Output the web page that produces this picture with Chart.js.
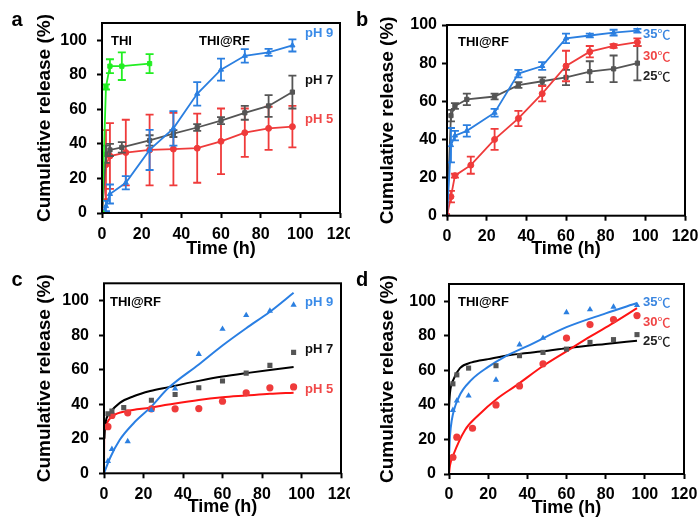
<!DOCTYPE html>
<html>
<head>
<meta charset="utf-8">
<script src="https://cdn.jsdelivr.net/npm/chart.js@4.4.0/dist/chart.umd.min.js"></script>
<style>
  html, body { margin: 0; padding: 0; background: #fff; }
  #wrap { position: relative; width: 700px; height: 527px; overflow: hidden; background: #fff; }
  canvas { position: absolute; }
</style>
</head>
<body>
<div id="wrap">
  <canvas id="pa" width="350" height="262" style="left:0;top:0;width:350px;height:262px"></canvas>
  <canvas id="pb" width="350" height="262" style="left:350px;top:0;width:350px;height:262px"></canvas>
  <canvas id="pc" width="350" height="265" style="left:0;top:262px;width:350px;height:265px"></canvas>
  <canvas id="pd" width="350" height="265" style="left:350px;top:262px;width:350px;height:265px"></canvas>
</div>
<script>
// ---------- Panel a: free THI and THI@RF at pH 9 / 7 / 5 (mean ± SD) ----------
const thiTime    = [0, 2, 4, 10, 24];
const thiRelease = [0, 73, 85, 85, 86.5];
const thiSD      = [0, 1.5, 4, 8, 5.5];

const ph9Time    = [0, 2, 4, 12, 24, 36, 48, 60, 72, 84, 96];
const ph9Release = [0, 4, 11, 17.5, 36.5, 49, 69, 83, 91, 93, 97];
const ph9SD      = [0, 3, 5.5, 3.8, 11.6, 10, 6.8, 6.4, 3.9, 2, 3.5];

const ph7Time    = [0, 2, 4, 10, 24, 36, 48, 60, 72, 84, 96];
const ph7Release = [0, 34, 36.5, 38, 42, 46, 49.5, 53.5, 58, 62, 70];
const ph7SD      = [0, 5, 3.5, 3, 3, 2, 2, 2, 4, 6.3, 9.5];

const ph5Time    = [0, 2, 4, 12, 24, 36, 48, 60, 72, 84, 96];
const ph5Release = [0, 28, 33, 35, 36.5, 37, 37.5, 41.5, 46.5, 49, 50];
const ph5SD      = [0, 20, 19, 19, 20.5, 21, 20, 19, 14, 12.5, 12];

// ---------- Panel b: THI@RF at 35 / 30 / 25 °C (mean ± SD) ----------
const t35Time    = [0, 2, 4, 10, 24, 36, 48, 60, 72, 84, 96];
const t35Release = [0, 37, 42, 44.5, 54, 74.5, 78.5, 93, 94.5, 96, 97];
const t35SD      = [0, 9, 2.5, 3, 2, 2, 2, 2.5, 1, 1.5, 1];

const t30Time    = [0, 2, 4, 12, 24, 36, 48, 60, 72, 84, 96];
const t30Release = [0, 10, 21, 26.5, 40, 51, 64, 78.5, 86, 89, 91];
const t30SD      = [0, 3, 1, 4.5, 5.5, 4, 4, 8, 3, 1, 2];

const t25Time    = [0, 2, 4, 10, 24, 36, 48, 60, 72, 84, 96];
const t25Release = [0, 52.5, 57.5, 61, 62.5, 68.5, 70.5, 72.5, 75.5, 77, 80];
const t25SD      = [0, 3, 1.5, 3, 1.5, 1.5, 2, 4, 5.5, 7, 9];

// ---------- Panel c: measured points and fitted release curves (pH) ----------
const c9Time   = [2, 4, 12, 24, 36, 48, 60, 72, 84, 96];
const c9Value  = [7, 14, 18.5, 36.5, 49, 69, 83.5, 91.5, 94, 97.5];
const c7Time   = [2, 4, 10, 24, 36, 48, 60, 72, 84, 96];
const c7Value  = [34.5, 36, 38, 42.3, 45.6, 49.5, 53.4, 58, 62.5, 70];
const c5Time   = [2, 4, 12, 24, 36, 48, 60, 72, 84, 96];
const c5Value  = [27, 33.5, 35, 37.3, 37.3, 37.5, 41.7, 46.6, 49.5, 50];

const c9FitTime  = [0, 3, 8, 15, 23.4, 32.7, 48, 60, 72, 84, 96];
const c9FitValue = [0, 8.7, 19.4, 29, 38, 49.5, 63, 74, 84, 93.5, 104.5];
const c7FitTime  = [0.2, 0.5, 3, 8, 15, 23.4, 32.7, 48, 60, 72, 84, 96];
const c7FitValue = [20, 27, 35, 40.8, 44.6, 47.6, 49.9, 53.5, 56, 58, 59.8, 61.5];
const c5FitTime  = [0, 0.1, 0.5, 1.4, 4.7, 11.5, 23.4, 32.7, 48, 60, 72, 84, 96];
const c5FitValue = [0, 22, 26, 29, 33.4, 36, 38, 39.8, 42.5, 44, 45, 46, 46.7];

// ---------- Panel d: measured points and fitted release curves (temperature) ----------
const d35Time  = [2, 4, 10, 24, 36, 48, 60, 72, 84, 96];
const d35Value = [37, 42.4, 45.3, 54.5, 74.9, 78.7, 93.6, 95.2, 96.7, 97.7];
const d30Time  = [2, 4, 12, 24, 36, 48, 60, 72, 84, 96];
const d30Value = [9.7, 21.3, 26.5, 40, 51, 63.8, 78.7, 86.5, 89.4, 91.7];
const d25Time  = [2, 4, 10, 24, 36, 48, 60, 72, 84, 96];
const d25Value = [52.2, 57.4, 61.3, 62.7, 68.5, 70.4, 72.3, 76.2, 77.8, 80.7];

const d35FitTime  = [0.1, 0.5, 1.4, 4.8, 11.6, 20, 28.6, 40, 60, 80, 96];
const d35FitValue = [12, 22, 31, 44, 54.6, 62, 68, 74, 85, 93, 99];
const d30FitTime  = [0, 0.5, 2.2, 8.2, 15, 25, 34, 48, 60, 72, 84, 96];
const d30FitValue = [0, 5, 11, 25.5, 34, 44, 51, 62.5, 71, 79.5, 87.5, 96];
const d25FitTime  = [0, 0.5, 2.2, 5.6, 11.6, 20, 32, 48, 60, 80, 96];
const d25FitValue = [38, 47, 54.5, 61.3, 64.6, 66.5, 69, 71, 72.8, 75.3, 77.2];

// Axis ticks
const xTickValues = [0, 20, 40, 60, 80, 100, 120];
const yTickValues = [0, 20, 40, 60, 80, 100];

// ---------- styling ----------
const FONT = "'Liberation Sans', Arial, sans-serif";
const CJK = "'Noto Sans CJK SC', 'Noto Sans CJK JP', sans-serif";
const BLUE = '#2b7fe0';
const RED = '#ef3b3b';
const GRAY = '#555555';
const GREEN = '#22ee22';
const FIT_BLUE = '#2a7fe3';
const FIT_RED = '#ff1414';

const pts = (xs, ys) => xs.map((x, i) => ({ x, y: ys[i] }));

function measuredLine(label, xs, ys, sd, color, style) {
  return {
    label, data: pts(xs, ys), sd,
    borderColor: color, backgroundColor: color,
    borderWidth: 1.8, pointStyle: style, pointRadius: 3, pointBorderWidth: 1,
    showLine: true, tension: 0
  };
}
function scatterSet(label, xs, ys, color, style) {
  return {
    label, data: pts(xs, ys),
    borderColor: color, backgroundColor: color,
    pointStyle: style, pointRadius: 3.6, pointBorderWidth: 0,
    showLine: false
  };
}
function fitSet(label, xs, ys, color) {
  return {
    label, data: pts(xs, ys),
    borderColor: color, borderWidth: 2,
    pointRadius: 0, showLine: true, cubicInterpolationMode: 'monotone'
  };
}

// Error bars (mean ± SD) drawn through the y scale
const errorBars = {
  id: 'errorBars',
  afterDatasetDraw(chart, args) {
    const ds = chart.data.datasets[args.index];
    if (!ds.sd) return;
    const ys = chart.scales.y;
    const ctx = chart.ctx;
    ctx.save();
    ctx.strokeStyle = ds.borderColor;
    ctx.lineWidth = 1.8;
    args.meta.data.forEach((pt, i) => {
      const e = ds.sd[i];
      if (!e) return;
      const v = ds.data[i].y;
      const yt = ys.getPixelForValue(v + e);
      const yb = ys.getPixelForValue(v - e);
      const x = pt.x, c = 4;
      ctx.beginPath();
      ctx.moveTo(x, yt); ctx.lineTo(x, yb);
      ctx.moveTo(x - c, yt); ctx.lineTo(x + c, yt);
      ctx.moveTo(x - c, yb); ctx.lineTo(x + c, yb);
      ctx.stroke();
    });
    ctx.restore();
  }
};

// Writes a label; a trailing ℃ sign is set in the CJK face so it keeps its full-width form
function drawNote(ctx, n) {
  ctx.fillStyle = n.color;
  const deg = n.text.endsWith('℃');
  const head = deg ? n.text.slice(0, -1) : n.text;
  ctx.font = `bold 13px ${FONT}`;
  ctx.fillText(head, n.x, n.y);
  if (deg) {
    const w = ctx.measureText(head).width;
    ctx.font = `500 13px ${CJK}`;
    ctx.fillText('℃', n.x + w, n.y + 0.5);
  }
}

// Plot frame, panel letter, y-axis title and in-plot labels
const panelDecor = {
  id: 'panelDecor',
  afterDraw(chart, args, o) {
    const ctx = chart.ctx;
    const a = chart.chartArea;
    ctx.save();
    ctx.strokeStyle = '#000';
    ctx.lineWidth = 2;
    ctx.strokeRect(a.left, a.top, a.right - a.left, a.bottom - a.top);

    ctx.fillStyle = '#000';
    ctx.textAlign = 'center';
    ctx.textBaseline = 'middle';
    ctx.font = `bold 20px ${FONT}`;
    ctx.fillText(o.letter, o.letterX, o.letterY);

    ctx.save();
    ctx.translate(o.yTitleX, (a.top + a.bottom) / 2);
    ctx.rotate(-Math.PI / 2);
    ctx.font = `bold 19px ${FONT}`;
    ctx.fillText('Cumulative release (%)', 0, 0);
    ctx.restore();

    ctx.textAlign = 'left';
    o.notes.forEach(n => drawNote(ctx, n));
    ctx.restore();
  }
};

function makeChart(id, datasets, p) {
  const tickFont = { family: FONT, size: 16, weight: 'bold' };
  return new Chart(document.getElementById(id), {
    type: 'line',
    data: { datasets },
    plugins: [errorBars, panelDecor],
    options: {
      responsive: false,
      animation: false,
      devicePixelRatio: 1,
      layout: { autoPadding: false, padding: { left: 0, top: p.top, right: p.right, bottom: 0 } },
      plugins: {
        legend: { display: false },
        tooltip: { enabled: false },
        panelDecor: p.decor
      },
      scales: {
        x: {
          type: 'linear', min: 0, max: 120,
          afterBuildTicks: s => { s.ticks = xTickValues.map(v => ({ value: v })); },
          ticks: { padding: p.xTickPad, color: '#000', font: tickFont, maxRotation: 0 },
          grid: { drawOnChartArea: false, drawTicks: true, tickLength: 5, tickWidth: 2, tickColor: '#000' },
          border: { display: false },
          title: { display: true, text: 'Time (h)', color: '#000',
                   font: { family: FONT, size: 18, weight: 'bold' },
                   padding: { top: 0, bottom: p.xTitlePad } },
          afterFit: s => { s.height = p.xH; s.paddingLeft = 0; s.paddingRight = 0; }
        },
        y: {
          type: 'linear', min: 0, max: p.yMax,
          afterBuildTicks: s => { s.ticks = yTickValues.map(v => ({ value: v })); },
          ticks: { padding: p.yTickPad, color: '#000', font: tickFont },
          grid: { drawOnChartArea: false, drawTicks: true, tickLength: 5, tickWidth: 2, tickColor: '#000' },
          border: { display: false },
          afterFit: s => { s.width = p.yW; s.paddingTop = 0; s.paddingBottom = 0; }
        }
      }
    }
  });
}

// Panel a
makeChart('pa', [
  measuredLine('THI', thiTime, thiRelease, thiSD, GREEN, 'rect'),
  measuredLine('pH 9', ph9Time, ph9Release, ph9SD, BLUE, 'triangle'),
  measuredLine('pH 7', ph7Time, ph7Release, ph7SD, GRAY, 'rect'),
  measuredLine('pH 5', ph5Time, ph5Release, ph5SD, RED, 'circle')
], {
  top: 23, right: 10, yW: 102, xH: 49, yMax: 110, yTickPad: 10, xTickPad: 7, xTitlePad: 2,
  decor: {
    letter: 'a', letterX: 17, letterY: 20, yTitleX: 45,
    notes: [
      { text: 'THI', x: 111, y: 41, color: '#000' },
      { text: 'THI@RF', x: 199, y: 41, color: '#000' },
      { text: 'pH 9', x: 305, y: 33, color: '#3a8be8' },
      { text: 'pH 7', x: 305, y: 80, color: '#111' },
      { text: 'pH 5', x: 305, y: 119, color: '#f04848' }
    ]
  }
});

// Panel b
makeChart('pb', [
  measuredLine('35 °C', t35Time, t35Release, t35SD, BLUE, 'triangle'),
  measuredLine('30 °C', t30Time, t30Release, t30SD, RED, 'circle'),
  measuredLine('25 °C', t25Time, t25Release, t25SD, GRAY, 'rect')
], {
  top: 25, right: 15, yW: 97, xH: 46.3, yMax: 100, yTickPad: 5, xTickPad: 6, xTitlePad: 2,
  decor: {
    letter: 'b', letterX: 12, letterY: 20, yTitleX: 38,
    notes: [
      { text: 'THI@RF', x: 108, y: 42, color: '#000' },
      { text: '35℃', x: 293, y: 34, color: '#3a86e0' },
      { text: '30℃', x: 293, y: 56, color: '#f04545' },
      { text: '25℃', x: 293, y: 76, color: '#222' }
    ]
  }
});

// Panel c
makeChart('pc', [
  scatterSet('pH 9', c9Time, c9Value, BLUE, 'triangle'),
  scatterSet('pH 7', c7Time, c7Value, GRAY, 'rect'),
  scatterSet('pH 5', c5Time, c5Value, RED, 'circle'),
  fitSet('pH 9 fit', c9FitTime, c9FitValue, FIT_BLUE),
  fitSet('pH 7 fit', c7FitTime, c7FitValue, '#000'),
  fitSet('pH 5 fit', c5FitTime, c5FitValue, FIT_RED)
], {
  top: 21.3, right: 9, yW: 104, xH: 53.7, yMax: 110, yTickPad: 10, xTickPad: 7, xTitlePad: 9,
  decor: {
    letter: 'c', letterX: 17, letterY: 18, yTitleX: 45,
    notes: [
      { text: 'THI@RF', x: 110, y: 40, color: '#000' },
      { text: 'pH 9', x: 305, y: 40, color: '#3a8be8' },
      { text: 'pH 7', x: 305, y: 87, color: '#111' },
      { text: 'pH 5', x: 305, y: 127, color: '#f04848' }
    ]
  }
});

// Panel d
makeChart('pd', [
  scatterSet('35 °C', d35Time, d35Value, BLUE, 'triangle'),
  scatterSet('30 °C', d30Time, d30Value, RED, 'circle'),
  scatterSet('25 °C', d25Time, d25Value, GRAY, 'rect'),
  fitSet('35 °C fit', d35FitTime, d35FitValue, FIT_BLUE),
  fitSet('30 °C fit', d30FitTime, d30FitValue, FIT_RED),
  fitSet('25 °C fit', d25FitTime, d25FitValue, '#000')
], {
  top: 22, right: 16, yW: 99, xH: 53, yMax: 110, yTickPad: 8, xTickPad: 6, xTitlePad: 8,
  decor: {
    letter: 'd', letterX: 12, letterY: 18, yTitleX: 38,
    notes: [
      { text: 'THI@RF', x: 108, y: 40, color: '#000' },
      { text: '35℃', x: 293, y: 40, color: '#3a86e0' },
      { text: '30℃', x: 293, y: 60, color: '#f04545' },
      { text: '25℃', x: 293, y: 79, color: '#222' }
    ]
  }
});
</script>
</body>
</html>
